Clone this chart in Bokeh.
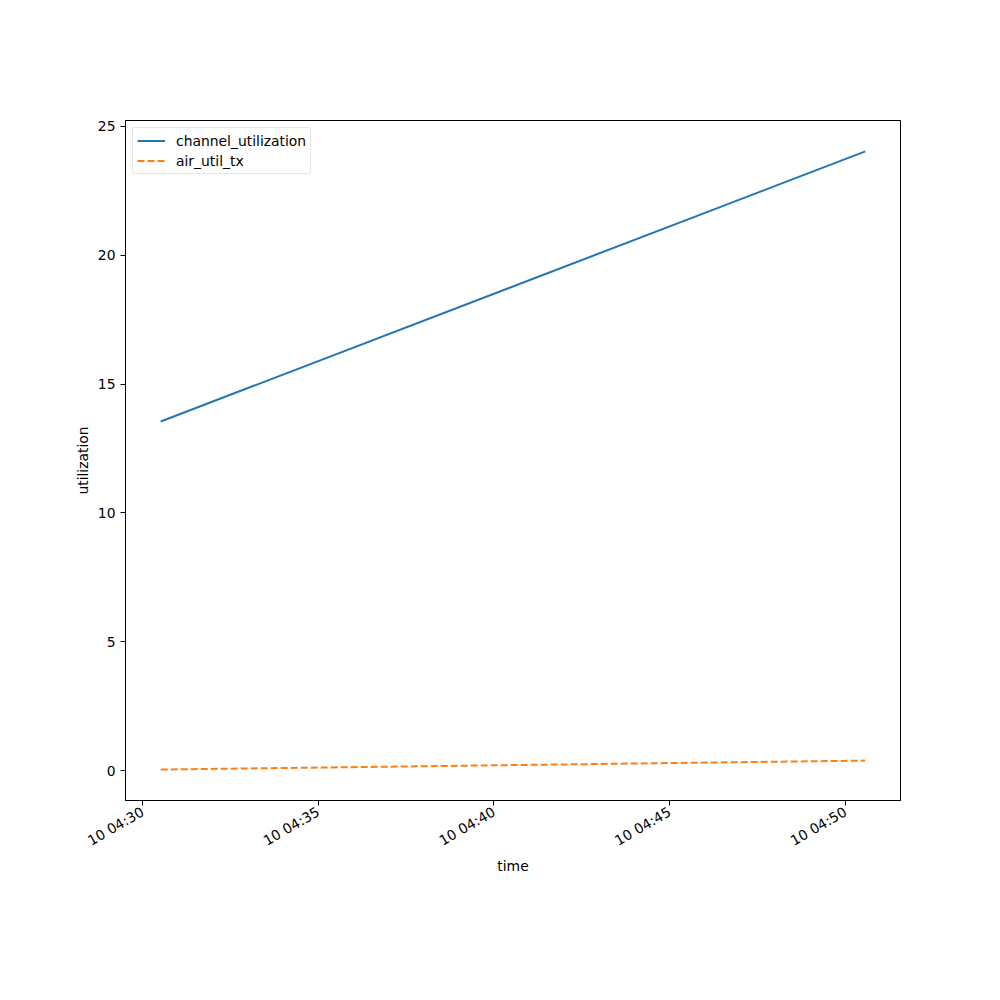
import math
from datetime import datetime
from bokeh.plotting import figure
from bokeh.models import (ColumnDataSource, Range1d, FixedTicker, DatetimeTickFormatter,
                          Legend, LegendItem)
from bokeh.embed import file_html
from bokeh.resources import INLINE

# Data
times = [datetime(2024, 5, 10, 4, 30, 31), datetime(2024, 5, 10, 4, 50, 34)]
channel_utilization = [13.55, 24.03]
air_util_tx = [0.04, 0.39]
x_ticks = [datetime(2024, 5, 10, 4, m) for m in (30, 35, 40, 45, 50)]
y_ticks = [0, 5, 10, 15, 20, 25]

def ms(d):
    return (d - datetime(1970, 1, 1)).total_seconds() * 1000.0

src = ColumnDataSource(dict(t=times, cu=channel_utilization, at=air_util_tx))

span = ms(times[-1]) - ms(times[0])
yall = channel_utilization + air_util_tx
ymin, ymax = min(yall), max(yall)
yspan = ymax - ymin

p = figure(width=984, height=984, x_axis_type="datetime",
           output_backend="svg", toolbar_location=None,
           x_range=Range1d(ms(times[0]) - 0.05 * span, ms(times[-1]) + 0.05 * span),
           y_range=Range1d(ymin - 0.05 * yspan, ymax + 0.05 * yspan),
           min_border_left=125, min_border_right=84, min_border_top=120, min_border_bottom=184)
p.background_fill_color = "white"
p.border_fill_color = "white"
p.outline_line_color = "black"
p.outline_line_width = 1
p.xgrid.visible = False
p.ygrid.visible = False

r1 = p.line("t", "cu", source=src, line_color="#1f77b4", line_width=2)
r2 = p.line("t", "at", source=src, line_color="#ff7f0e", line_width=2, line_dash="7 3")

p.xaxis.ticker = FixedTicker(ticks=[ms(t) for t in x_ticks])
p.xaxis.formatter = DatetimeTickFormatter(minutes="%d %H:%M", hours="%d %H:%M",
                                          minsec="%d %H:%M", seconds="%d %H:%M")
p.xaxis.major_label_orientation = math.pi / 6
p.yaxis.ticker = FixedTicker(ticks=y_ticks)

for ax in (p.xaxis[0], p.yaxis[0]):
    ax.major_tick_in = 0
    ax.major_tick_out = 5
    ax.minor_tick_line_color = None
    ax.major_label_text_font = "DejaVu Sans"
    ax.major_label_text_font_size = "13.9px"
    ax.major_label_text_color = "black"
    ax.axis_label_text_font = "DejaVu Sans"
    ax.axis_label_text_font_size = "13.9px"
    ax.axis_label_text_font_style = "normal"
    ax.axis_label_text_color = "black"
    ax.axis_line_color = "black"
    ax.major_tick_line_color = "black"

p.xaxis.axis_label = "time"
p.yaxis.axis_label = "utilization"
p.xaxis.axis_label_standoff = 0
p.yaxis.axis_label_standoff = 4

legend = Legend(items=[LegendItem(label="channel_utilization", renderers=[r1]),
                       LegendItem(label="air_util_tx", renderers=[r2])],
                location="top_left")
legend.margin = 7
legend.padding = 4
legend.spacing = 3
legend.label_standoff = 11
legend.label_text_font = "DejaVu Sans"
legend.label_text_font_size = "13.9px"
legend.label_text_color = "black"
legend.glyph_width = 28
legend.glyph_height = 17
legend.label_height = 17
legend.border_line_color = "#cccccc"
legend.border_line_width = 1
legend.border_radius = 3
legend.background_fill_alpha = 0.8
p.add_layout(legend)

open("out.html", "w").write(file_html(p, INLINE))
